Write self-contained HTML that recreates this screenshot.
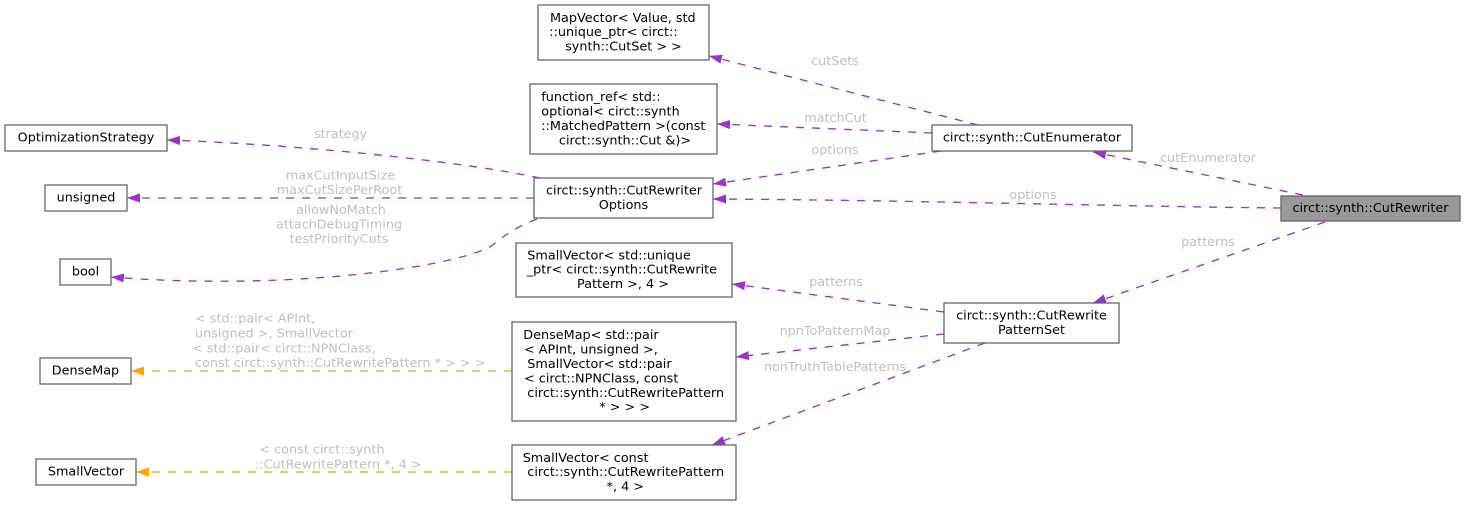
<!DOCTYPE html>
<html>
<head>
<meta charset="utf-8">
<style>
  html, body { margin: 0; padding: 0; background: #ffffff; }
  body { width: 1465px; height: 505px; overflow: hidden; }
  svg { display: block; }
  .t { font-family: "DejaVu Sans", "Liberation Sans", sans-serif; font-size: 12.8px; fill: #000; }
  .l { font-family: "DejaVu Sans", "Liberation Sans", sans-serif; font-size: 12.8px; fill: #bfbfbf; }
  .b { fill: #ffffff; stroke: #666666; stroke-width: 1.3; }
  .ep { fill: none; stroke: #9a32cd; stroke-width: 1.35; stroke-dasharray: 8,8; }
  .eo { fill: none; stroke: #ffa500; stroke-width: 1.35; stroke-dasharray: 8,8; }
</style>
</head>
<body>
<svg width="1465" height="505" viewBox="0 0 1465 505" xmlns="http://www.w3.org/2000/svg">
  <defs>
    <marker id="ap" markerUnits="userSpaceOnUse" markerWidth="16" markerHeight="12" refX="13" refY="5" orient="auto">
      <path d="M0,0.4 L13,5 L0,9.6 z" fill="#9a32cd"/>
    </marker>
    <marker id="ao" markerUnits="userSpaceOnUse" markerWidth="16" markerHeight="12" refX="13" refY="5" orient="auto">
      <path d="M0,0.4 L13,5 L0,9.6 z" fill="#ffa500"/>
    </marker>
  </defs>

  <!-- Edges -->
  <path class="ep" d="M978,125 L709,56" marker-end="url(#ap)"/>
  <path class="ep" d="M932,133 L717,124" marker-end="url(#ap)"/>
  <path class="ep" d="M941,151 L713,184" marker-end="url(#ap)"/>
  <path class="ep" d="M1281,208 C1100,206 900,200 713,199" marker-end="url(#ap)"/>
  <path class="ep" d="M1303,195 L1093,152" marker-end="url(#ap)"/>
  <path class="ep" d="M1325,222 L1093,303" marker-end="url(#ap)"/>
  <path class="ep" d="M944,312 L732,284" marker-end="url(#ap)"/>
  <path class="ep" d="M944,334 L736,357" marker-end="url(#ap)"/>
  <path class="ep" d="M985,343 L712,445" marker-end="url(#ap)"/>
  <path class="ep" d="M540,178 C480,165 330,146 167,140" marker-end="url(#ap)"/>
  <path class="ep" d="M534,198 L127,198" marker-end="url(#ap)"/>
  <path class="ep" d="M537,219 C518,226 505,235 494,244 C470,264 300,292 111,277" marker-end="url(#ap)"/>
  <path class="eo" d="M512,371 L131,371" marker-end="url(#ao)"/>
  <path class="eo" d="M512,472 L136,472" marker-end="url(#ao)"/>

  <!-- Edge labels -->
  <text class="l" x="835" y="65" text-anchor="middle">cutSets</text>
  <text class="l" x="835.5" y="122" text-anchor="middle">matchCut</text>
  <text class="l" x="835" y="154" text-anchor="middle">options</text>
  <text class="l" x="1033" y="199" text-anchor="middle">options</text>
  <text class="l" x="1208" y="162" text-anchor="middle">cutEnumerator</text>
  <text class="l" x="1208" y="246" text-anchor="middle">patterns</text>
  <text class="l" x="836" y="286" text-anchor="middle">patterns</text>
  <text class="l" x="835" y="335" text-anchor="middle">npnToPatternMap</text>
  <text class="l" x="835" y="371" text-anchor="middle">nonTruthTablePatterns</text>
  <text class="l" x="340.5" y="138" text-anchor="middle">strategy</text>
  <text class="l" x="340.5" y="179.5" text-anchor="middle">maxCutInputSize</text>
  <text class="l" x="339.5" y="194" text-anchor="middle">maxCutSizePerRoot</text>
  <text class="l" x="341" y="214" text-anchor="middle">allowNoMatch</text>
  <text class="l" x="339" y="228.7" text-anchor="middle">attachDebugTiming</text>
  <text class="l" x="339" y="243" text-anchor="middle">testPriorityCuts</text>
  <text class="l" x="195" y="322.7">&lt; std::pair&lt; APInt,</text>
  <text class="l" x="195" y="337.5">unsigned &gt;, SmallVector</text>
  <text class="l" x="192" y="352.3">&lt; std::pair&lt; circt::NPNClass,</text>
  <text class="l" x="195" y="367">const circt::synth::CutRewritePattern * &gt; &gt; &gt;</text>
  <text class="l" x="259.3" y="453.7">&lt; const circt::synth</text>
  <text class="l" x="255" y="468.4">::CutRewritePattern *, 4 &gt;</text>

  <!-- Nodes -->
  <rect class="b" x="538" y="5" width="171" height="55"/>
  <text class="t" x="550" y="21.8">MapVector&lt; Value, std</text>
  <text class="t" x="549.3" y="36.2">::unique_ptr&lt; circt::</text>
  <text class="t" x="623.5" y="50.6" text-anchor="middle">synth::CutSet &gt; &gt;</text>

  <rect class="b" x="530" y="84" width="187" height="70"/>
  <text class="t" x="541.3" y="101.1">function_ref&lt; std::</text>
  <text class="t" x="541.3" y="115.5">optional&lt; circt::synth</text>
  <text class="t" x="541.3" y="129.9">::MatchedPattern &gt;(const</text>
  <text class="t" x="625" y="144.3" text-anchor="middle">circt::synth::Cut &amp;)&gt;</text>

  <rect class="b" x="534" y="178" width="179" height="40"/>
  <text class="t" x="624" y="194.5" text-anchor="middle">circt::synth::CutRewriter</text>
  <text class="t" x="623.5" y="208.9" text-anchor="middle">Options</text>

  <rect class="b" x="932" y="125" width="200" height="26"/>
  <text class="t" x="1032" y="141.7" text-anchor="middle">circt::synth::CutEnumerator</text>

  <rect x="1281" y="196" width="179" height="25" fill="#999999" stroke="#666666" stroke-width="1.3"/>
  <text class="t" x="1370.5" y="212.2" text-anchor="middle">circt::synth::CutRewriter</text>

  <rect class="b" x="944" y="303" width="175" height="40"/>
  <text class="t" x="1031.5" y="319.5" text-anchor="middle">circt::synth::CutRewrite</text>
  <text class="t" x="1031.5" y="333.9" text-anchor="middle">PatternSet</text>

  <rect class="b" x="516" y="243" width="216" height="54"/>
  <text class="t" x="527.3" y="259.3">SmallVector&lt; std::unique</text>
  <text class="t" x="526.7" y="273.7">_ptr&lt; circt::synth::CutRewrite</text>
  <text class="t" x="623" y="288.1" text-anchor="middle">Pattern &gt;, 4 &gt;</text>

  <rect class="b" x="512" y="322" width="224" height="99"/>
  <text class="t" x="523.3" y="339.2">DenseMap&lt; std::pair</text>
  <text class="t" x="524" y="353.6">&lt; APInt, unsigned &gt;,</text>
  <text class="t" x="527.3" y="368">SmallVector&lt; std::pair</text>
  <text class="t" x="524" y="382.4">&lt; circt::NPNClass, const</text>
  <text class="t" x="527.3" y="396.8">circt::synth::CutRewritePattern</text>
  <text class="t" x="624.7" y="411.2" text-anchor="middle">* &gt; &gt; &gt;</text>

  <rect class="b" x="512" y="445" width="224" height="55"/>
  <text class="t" x="522.7" y="461.8">SmallVector&lt; const</text>
  <text class="t" x="527.3" y="476.2">circt::synth::CutRewritePattern</text>
  <text class="t" x="625.3" y="490.6" text-anchor="middle">*, 4 &gt;</text>

  <rect class="b" x="5" y="125" width="162" height="26"/>
  <text class="t" x="86" y="141.7" text-anchor="middle">OptimizationStrategy</text>

  <rect class="b" x="45" y="185" width="82" height="26"/>
  <text class="t" x="86" y="201.7" text-anchor="middle">unsigned</text>

  <rect class="b" x="60" y="259" width="51" height="26"/>
  <text class="t" x="85.5" y="275.7" text-anchor="middle">bool</text>

  <rect class="b" x="40" y="358" width="91" height="26"/>
  <text class="t" x="85.5" y="374.7" text-anchor="middle">DenseMap</text>

  <rect class="b" x="36" y="459" width="100" height="26"/>
  <text class="t" x="86" y="475.7" text-anchor="middle">SmallVector</text>
</svg>
</body>
</html>
